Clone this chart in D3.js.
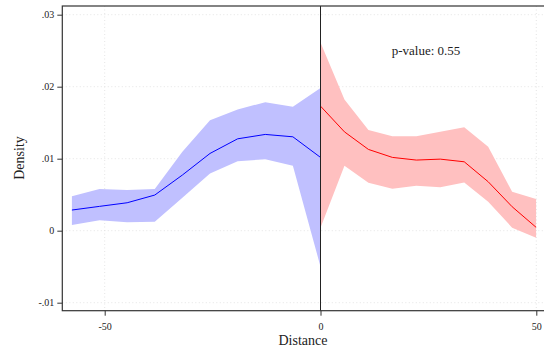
<!DOCTYPE html>
<html><head><meta charset="utf-8">
<script src="https://cdn.jsdelivr.net/npm/d3@7"></script>
<style>body{margin:0;background:#fff}svg{display:block}
text{font-family:"Liberation Serif","DejaVu Serif",serif;}</style>
</head><body>
<script>
const leftX = [-57.6,-51.2,-44.8,-38.4,-32,-25.6,-19.2,-12.8,-6.4,0];
const leftFit = [0.00287,0.00338,0.00388,0.00495,0.00773,0.01073,0.01276,0.01337,0.01304,0.01018];
const leftHi = [0.00477,0.00578,0.00564,0.00578,0.01096,0.01535,0.01684,0.01785,0.0172,0.01983];
const leftLo = [0.00079,0.00144,0.00116,0.00125,0.00458,0.00796,0.00963,0.00994,0.00902,-0.00499];
const rightX = [0,5.55,11.1,16.65,22.2,27.75,33.3,38.85,44.4,49.95];
const rightFit = [0.0173,0.01373,0.01129,0.01018,0.00981,0.00994,0.00957,0.0068,0.00333,0.00047];
const rightHi = [0.02613,0.01822,0.01397,0.01313,0.01313,0.01373,0.01438,0.01165,0.00541,0.0044];
const rightLo = [0.00042,0.00902,0.00666,0.00583,0.00624,0.00602,0.00671,0.00402,0.00042,-0.00097];
const xTicks = [-50,0,50];
const yTicks = [-0.01,0,0.01,0.02,0.03];
const yTickLabels = ["-.01","0",".01",".02",".03"];

const W=544,H=352;
const svg=d3.select("body").append("svg").attr("width",W).attr("height",H);
const L=62.3,R=544,T=6,B=310.7;
const x=d3.scaleLinear().domain([-50,50]).range([104.7,536.3]);
const y=d3.scaleLinear().domain([0,0.03]).range([230.7,14.7]);

// grid
const g=svg.append("g");
g.selectAll(".gy").data(yTicks).join("line")
 .attr("x1",L).attr("x2",R).attr("y1",d=>y(d)).attr("y2",d=>y(d))
 .attr("stroke","#ddd").attr("stroke-width",0.8).attr("stroke-dasharray","1,2.5");
g.selectAll(".gx").data(xTicks.filter(d=>d!==0)).join("line")
 .attr("y1",T).attr("y2",B).attr("x1",d=>x(d)).attr("x2",d=>x(d))
 .attr("stroke","#ddd").attr("stroke-width",0.8).attr("stroke-dasharray","1,2.5");

const area=d3.area().x(d=>x(d.x)).y0(d=>y(d.lo)).y1(d=>y(d.hi));
const line=d3.line().x(d=>x(d.x)).y(d=>y(d.f));
const leftD=leftX.map((v,i)=>({x:v,f:leftFit[i],hi:leftHi[i],lo:leftLo[i]}));
const rightD=rightX.map((v,i)=>({x:v,f:rightFit[i],hi:rightHi[i],lo:rightLo[i]}));

svg.append("path").datum(leftD).attr("d",area).attr("fill","#c0c0ff");
svg.append("path").datum(rightD).attr("d",area).attr("fill","#ffc0c0");
svg.append("path").datum(leftD).attr("d",line).attr("fill","none").attr("stroke","#0000ff").attr("stroke-width",1);
svg.append("path").datum(rightD).attr("d",line).attr("fill","none").attr("stroke","#ff0000").attr("stroke-width",1);

svg.append("line").attr("x1",x(0)).attr("x2",x(0)).attr("y1",T).attr("y2",B).attr("stroke","#222").attr("stroke-width",1);

svg.append("rect").attr("x",L).attr("y",T).attr("width",R-L+2).attr("height",B-T)
 .attr("fill","none").attr("stroke","#333").attr("stroke-width",1.2);

const yAxis=d3.axisLeft(y).tickValues(yTicks).tickFormat((d,i)=>yTickLabels[i]).tickSize(5).tickPadding(3);
const ya=svg.append("g").attr("transform",`translate(${L},0)`).call(yAxis);
const xAxis=d3.axisBottom(x).tickValues(xTicks).tickFormat(d=>String(d)).tickSize(5).tickPadding(7);
const xa=svg.append("g").attr("transform",`translate(0,${B})`).call(xAxis);
[ya,xa].forEach(a=>{a.attr("font-family",null).attr("font-size",null);
 a.select(".domain").remove();
 a.selectAll("line").attr("stroke","#333");
 a.selectAll("text").style("font-family",'"Liberation Serif","DejaVu Serif",serif').attr("font-size",10).attr("fill","#222");});

svg.append("text").attr("x",303).attr("y",345).attr("text-anchor","middle")
 .attr("font-size",14).attr("fill","#222").text("Distance");
svg.append("text").attr("transform","translate(24,158) rotate(-90)").attr("text-anchor","middle")
 .attr("font-size",14).attr("fill","#222").text("Density");
svg.append("text").attr("x",426).attr("y",55).attr("text-anchor","middle")
 .attr("font-size",13).attr("fill","#222").text("p-value: 0.55");
</script>
</body></html>
